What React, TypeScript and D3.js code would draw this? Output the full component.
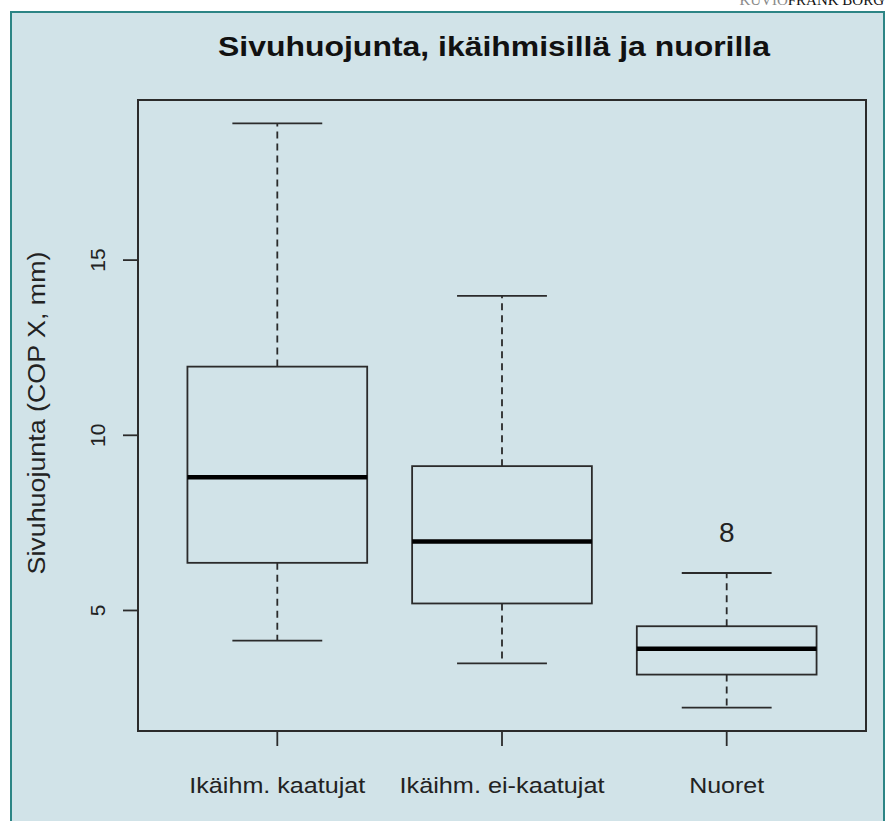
import React from "react";
import * as d3 from "d3";

const WIDTH = 886;
const HEIGHT = 821;
// plot region (R-style box inside the panel)
const PLOT = { left: 138, top: 100, right: 866, bottom: 731 };

const groups = ["Ikäihm. kaatujat", "Ikäihm. ei-kaatujat", "Nuoret"];
const groupLabelWidths = [176, 205, 75];
const whiskerLow = [4.14, 3.49, 2.23];
const q1 = [6.36, 5.2, 3.17];
const median = [8.8, 6.97, 3.91];
const q3 = [11.96, 9.12, 4.55];
const whiskerHigh = [18.9, 13.98, 6.07];
const outliers = [[], [], [7.23]];
const yTicks = [5, 10, 15];

const FONT = "'Liberation Sans', Arial, Helvetica, sans-serif";
const LINE = "#2b2b2b";

export default function App() {
  const x = d3
    .scaleLinear()
    .domain([0.38, 3.62])
    .range([PLOT.left, PLOT.right]);
  const y = d3
    .scaleLinear()
    .domain([1.56, 19.57])
    .range([PLOT.bottom, PLOT.top]);

  const boxHalf = x(1.4) - x(1); // boxwex 0.8
  const stapleHalf = boxHalf / 2;

  return (
    <svg
      width={WIDTH}
      height={HEIGHT}
      style={{ position: "absolute", left: 0, top: 0 }}
    >
      <rect x={0} y={0} width={WIDTH} height={HEIGHT} fill="#ffffff" />
      <rect
        x={11}
        y={12}
        width={873}
        height={HEIGHT}
        fill="#d1e3e8"
        stroke="#2c8585"
        strokeWidth={2}
      />
      <text
        x={884}
        y={5}
        textAnchor="end"
        fontFamily="'Liberation Serif', 'DejaVu Serif', serif"
        fontSize={15}
      >
        <tspan fill="#8a8a8a">KUVIO</tspan>
        <tspan fill="#111">FRANK BORG</tspan>
      </text>

      <text
        x={494}
        y={56}
        textAnchor="middle"
        fontFamily={FONT}
        fontWeight="bold"
        fontSize={27}
        fill="#111"
        textLength={552}
        lengthAdjust="spacingAndGlyphs"
      >
        Sivuhuojunta, ikäihmisillä ja nuorilla
      </text>

      <text
        transform={`translate(45, 413) rotate(-90)`}
        textAnchor="middle"
        fontFamily={FONT}
        fontSize={23}
        fill="#222"
        textLength={323}
        lengthAdjust="spacingAndGlyphs"
      >
        Sivuhuojunta (COP X, mm)
      </text>

      {/* y axis */}
      {yTicks.map((t) => (
        <g key={t}>
          <line
            x1={PLOT.left - 15}
            x2={PLOT.left}
            y1={y(t)}
            y2={y(t)}
            stroke={LINE}
            strokeWidth={1.8}
          />
          <text
            transform={`translate(105, ${y(t)}) rotate(-90)`}
            textAnchor="middle"
            fontFamily={FONT}
            fontSize={21}
            fill="#222"
          >
            {t}
          </text>
        </g>
      ))}

      {/* x axis */}
      {groups.map((g, i) => (
        <g key={g}>
          <line
            x1={x(i + 1)}
            x2={x(i + 1)}
            y1={PLOT.bottom}
            y2={PLOT.bottom + 15}
            stroke={LINE}
            strokeWidth={1.8}
          />
          <text
            x={x(i + 1)}
            y={793}
            textAnchor="middle"
            fontFamily={FONT}
            fontSize={22}
            fill="#222"
            textLength={groupLabelWidths[i]}
            lengthAdjust="spacingAndGlyphs"
          >
            {g}
          </text>
        </g>
      ))}

      {/* boxes */}
      {groups.map((g, i) => {
        const cx = x(i + 1);
        return (
          <g key={g}>
            <line
              x1={cx}
              x2={cx}
              y1={y(q3[i])}
              y2={y(whiskerHigh[i])}
              stroke={LINE}
              strokeWidth={1.8}
              strokeDasharray="7,5"
            />
            <line
              x1={cx}
              x2={cx}
              y1={y(q1[i])}
              y2={y(whiskerLow[i])}
              stroke={LINE}
              strokeWidth={1.8}
              strokeDasharray="7,5"
            />
            <line
              x1={cx - stapleHalf}
              x2={cx + stapleHalf}
              y1={y(whiskerHigh[i])}
              y2={y(whiskerHigh[i])}
              stroke={LINE}
              strokeWidth={1.8}
            />
            <line
              x1={cx - stapleHalf}
              x2={cx + stapleHalf}
              y1={y(whiskerLow[i])}
              y2={y(whiskerLow[i])}
              stroke={LINE}
              strokeWidth={1.8}
            />
            <rect
              x={cx - boxHalf}
              y={y(q3[i])}
              width={boxHalf * 2}
              height={y(q1[i]) - y(q3[i])}
              fill="none"
              stroke={LINE}
              strokeWidth={1.8}
            />
            <line
              x1={cx - boxHalf}
              x2={cx + boxHalf}
              y1={y(median[i])}
              y2={y(median[i])}
              stroke="#000"
              strokeWidth={4.5}
            />
            {outliers[i].map((o, j) => (
              <text
                key={j}
                x={cx}
                y={y(o)}
                dy="0.36em"
                textAnchor="middle"
                fontFamily={FONT}
                fontSize={28}
                fill="#222"
              >
                8
              </text>
            ))}
          </g>
        );
      })}

      {/* plot frame */}
      <rect
        x={PLOT.left}
        y={PLOT.top}
        width={PLOT.right - PLOT.left}
        height={PLOT.bottom - PLOT.top}
        fill="none"
        stroke={LINE}
        strokeWidth={2}
      />
    </svg>
  );
}
